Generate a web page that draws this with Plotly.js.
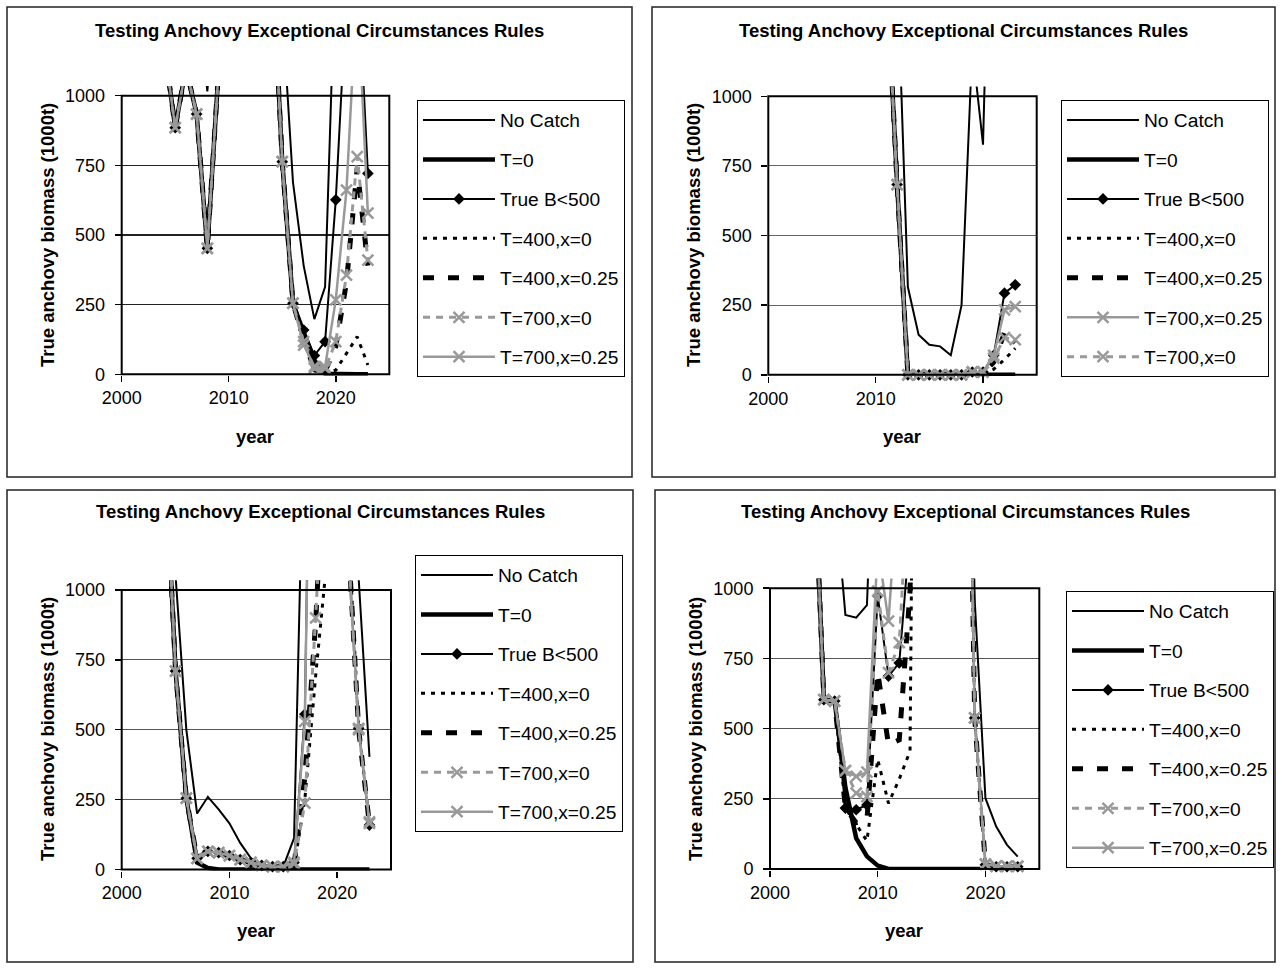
<!DOCTYPE html>
<html>
<head>
<meta charset="utf-8">
<script src="https://cdn.plot.ly/plotly-3.0.1.min.js"></script>
<style>html,body{margin:0;padding:0;background:#fff;}#chart{width:1282px;height:969px;}</style>
</head>
<body>
<div id="chart"></div>
<script>
// ---------------- DATA ----------------
const years = [2000,2001,2002,2003,2004,2005,2006,2007,2008,2009,2010,2011,2012,2013,2014,2015,2016,2017,2018,2019,2020,2021,2022,2023];
const seriesNames = ['No Catch','T=0','True B<500','T=400,x=0','T=400,x=0.25','T=700,x=0','T=700,x=0.25'];
const legendOrderP2 = ['No Catch','T=0','True B<500','T=400,x=0','T=400,x=0.25','T=700,x=0.25','T=700,x=0'];
const chartTitle = 'Testing Anchovy Exceptional Circumstances Rules';
const yTitle = 'True anchovy biomass (1000t)';
const xTitle = 'year';
const xTickVals = [2000,2010,2020];
const yTickVals = [0,250,500,750,1000];

// Panel 1 (top left)
const p1_noCatch   = [2400,2650,2500,2150,1750,1450,1600,1400,1015,1700,2300,2600,2450,2200,1900,1310,690,390,198,314,1520,1900,2100,2000];
const p1_t0        = [2000,2150,1950,1600,1170,885,1100,934,452,1060,1500,1900,2100,1800,1530,763,255,150,50,2,0,0,0,0];
const p1_trueB     = [2000,2150,1950,1600,1170,885,1100,934,452,1060,1500,1900,2100,1800,1530,763,255,159,67,117,626,1360,1500,721];
const p1_t400x0    = [2000,2150,1950,1600,1170,885,1100,934,452,1060,1500,1900,2100,1800,1530,763,255,130,12,3,15,75,135,33];
const p1_t400x025  = [2000,2150,1950,1600,1170,885,1100,934,452,1060,1500,1900,2100,1800,1530,763,255,125,18,10,100,330,740,390];
const p1_t700x0    = [2000,2150,1950,1600,1170,885,1100,934,452,1060,1500,1900,2100,1800,1530,763,255,117,21,20,117,356,781,410];
const p1_t700x025  = [2000,2150,1950,1600,1170,885,1100,934,452,1060,1500,1900,2100,1800,1530,763,255,105,28,27,267,661,1400,578];

// Panel 2 (top right)
const p2_noCatch   = [2600,2800,3000,2900,2700,2500,2800,3000,3200,2900,2400,2000,1470,315,144,108,102,70,250,1180,826,3500,3800,3600];
const p2_t0        = [2300,2500,2700,2600,2400,2200,2500,2700,2900,2600,2100,1450,683,0,0,0,0,0,0,0,0,0,0,0];
const p2_trueB     = [2300,2500,2700,2600,2400,2200,2500,2700,2900,2600,2100,1450,683,0,0,0,0,0,0,10,10,70,293,323];
const p2_t400x0    = [2300,2500,2700,2600,2400,2200,2500,2700,2900,2600,2100,1450,683,0,0,0,0,0,0,0,0,20,55,95];
const p2_t400x025  = [2300,2500,2700,2600,2400,2200,2500,2700,2900,2600,2100,1450,683,0,0,0,0,0,0,5,5,45,151,115];
const p2_t700x0    = [2300,2500,2700,2600,2400,2200,2500,2700,2900,2600,2100,1450,683,0,0,0,0,0,0,10,10,60,133,126];
const p2_t700x025  = [2300,2500,2700,2600,2400,2200,2500,2700,2900,2600,2100,1450,683,0,0,0,0,0,0,10,10,70,233,245];

// Panel 3 (bottom left)
const p3_noCatch   = [2200,2400,2600,2300,1800,1050,500,200,260,215,165,95,40,15,10,10,112,1760,2600,2900,2500,1700,1040,403];
const p3_t0        = [1900,2100,2300,2000,1510,710,255,25,5,0,0,0,0,0,0,0,0,0,0,0,0,0,0,0];
const p3_trueB     = [1900,2100,2300,2000,1510,710,255,40,65,60,50,35,25,15,10,10,25,555,3000,2900,2500,1170,505,159];
const p3_t400x0    = [1900,2100,2300,2000,1510,710,255,40,65,60,50,35,25,15,10,10,10,250,690,1090,2200,1250,510,165];
const p3_t400x025  = [1900,2100,2300,2000,1510,710,255,40,65,60,50,35,25,15,10,10,15,330,880,2300,2400,1200,500,160];
const p3_t700x0    = [1900,2100,2300,2000,1510,710,255,40,65,60,50,35,25,15,10,10,20,237,900,2300,2400,1170,500,170];
const p3_t700x025  = [1900,2100,2300,2000,1510,710,255,40,65,60,50,35,25,15,10,10,25,530,3000,3000,2500,1170,505,165];

// Panel 4 (bottom right)
const p4_noCatch   = [2400,2600,2800,2500,2000,1100,1350,905,895,940,3500,3800,4000,3900,3700,3600,3500,3300,3000,960,252,151,86,44];
const p4_t0        = [2100,2300,2500,2200,1540,603,598,290,110,45,12,0,0,0,0,0,0,0,0,0,0,0,0,0];
const p4_trueB     = [2100,2300,2500,2200,1540,603,598,217,211,228,973,687,734,1200,2500,3000,3200,3100,2900,538,15,8,8,8];
const p4_t400x0    = [2100,2300,2500,2200,1540,603,598,217,160,100,390,234,320,420,5000,5000,4500,4000,3000,538,12,6,6,6];
const p4_t400x025  = [2100,2300,2500,2200,1540,603,598,217,165,175,700,443,460,990,4000,4500,4200,3800,2900,538,14,7,7,7];
const p4_t700x0    = [2100,2300,2500,2200,1540,603,598,350,270,258,990,699,806,1500,2600,3000,3200,3100,2900,538,16,9,9,9];
const p4_t700x025  = [2100,2300,2500,2200,1540,603,598,350,330,345,1150,883,1300,2000,2700,3100,3300,3100,2900,538,18,10,10,10];

// ---------------- STYLE / LAYOUT ----------------
const FONT = 'Liberation Sans, Arial, sans-serif';
const GRAY = '#999999';
const xMarker = {symbol:'x-thin', size:11, color:GRAY, line:{color:GRAY, width:2.5}};
const styles = {
  'No Catch':     {mode:'lines', line:{color:'#000', width:2}},
  'T=0':          {mode:'lines', line:{color:'#000', width:4.5}},
  'True B<500':   {mode:'lines+markers', line:{color:'#000', width:2}, marker:{symbol:'diamond', size:9, color:'#000'}},
  'T=400,x=0':    {mode:'lines', line:{color:'#000', width:3, dash:'4px,6px'}},
  'T=400,x=0.25': {mode:'lines', line:{color:'#000', width:5, dash:'11px,14px'}},
  'T=700,x=0':    {mode:'lines+markers', line:{color:GRAY, width:3, dash:'7px,6px'}, marker:xMarker},
  'T=700,x=0.25': {mode:'lines+markers', line:{color:GRAY, width:2.5}, marker:xMarker}
};

const yRange = [-4, 1035];
const xRange = [2000, 2025];
const W = 1282, H = 969;

const panels = [
  {ax:'', data:{'No Catch':p1_noCatch,'T=0':p1_t0,'True B<500':p1_trueB,'T=400,x=0':p1_t400x0,'T=400,x=0.25':p1_t400x025,'T=700,x=0':p1_t700x0,'T=700,x=0.25':p1_t700x025},
   order:seriesNames, xdom:[121.7/W, 389.3/W], ydom:[1-375.4/H, 1-85.9/H], box:[7,7,632,477], title:[319.5,30], ytitle:[47,235], xtitle:[255,437], legend:[417,100], grid:'#222'},
  {ax:'2', data:{'No Catch':p2_noCatch,'T=0':p2_t0,'True B<500':p2_trueB,'T=400,x=0':p2_t400x0,'T=400,x=0.25':p2_t400x025,'T=700,x=0':p2_t700x0,'T=700,x=0.25':p2_t700x025},
   order:legendOrderP2, xdom:[768.3/W, 1036.7/W], ydom:[1-375.9/H, 1-86.5/H], box:[652,7,1275,477], title:[963.5,30], ytitle:[693,235], xtitle:[902,437], legend:[1061,100], grid:'#666'},
  {ax:'3', data:{'No Catch':p3_noCatch,'T=0':p3_t0,'True B<500':p3_trueB,'T=400,x=0':p3_t400x0,'T=400,x=0.25':p3_t400x025,'T=700,x=0':p3_t700x0,'T=700,x=0.25':p3_t700x025},
   order:seriesNames, xdom:[121.7/W, 391/W], ydom:[1-870.6/H, 1-580.2/H], box:[7,490,633,962], title:[320,512], ytitle:[47,729], xtitle:[256,930], legend:[415,555], grid:'#555'},
  {ax:'4', data:{'No Catch':p4_noCatch,'T=0':p4_t0,'True B<500':p4_trueB,'T=400,x=0':p4_t400x0,'T=400,x=0.25':p4_t400x025,'T=700,x=0':p4_t700x0,'T=700,x=0.25':p4_t700x025},
   order:seriesNames, xdom:[770/W, 1039.3/W], ydom:[1-870.1/H, 1-578.4/H], box:[655,490,1275,962], title:[965,512], ytitle:[695,729], xtitle:[904,930], legend:[1066,591], grid:'#555'}
];

const traces = [];
const layout = {
  width:W, height:H, margin:{l:0,r:0,t:0,b:0},
  paper_bgcolor:'#fff', plot_bgcolor:'rgba(0,0,0,0)',
  showlegend:true, font:{family:FONT, color:'#000', size:18},
  shapes:[], annotations:[]
};

function py(v, dom){ return dom[0] + (v - yRange[0])/(yRange[1]-yRange[0])*(dom[1]-dom[0]); }

panels.forEach((p, i) => {
  const xa = 'xaxis' + p.ax, ya = 'yaxis' + p.ax;
  const xid = 'x' + p.ax, yid = 'y' + p.ax;
  const legId = i === 0 ? 'legend' : 'legend' + (i+1);
  p.order.forEach((name, k) => {
    const st = styles[name];
    const t = {
      type:'scatter', x:years, y:p.data[name], name:name, xaxis:xid, yaxis:yid,
      legend:legId, legendgroup:'p'+i+'_'+k, mode:st.mode, line:st.line,
      cliponaxis:false, hoverinfo:'skip'
    };
    if (st.marker) t.marker = st.marker;
    traces.push(t);
  });
  layout[xa] = {domain:p.xdom, range:xRange, anchor:yid, tickvals:xTickVals, ticktext:xTickVals.map(String),
    ticks:'outside', ticklen:6, tickwidth:1.5, tickcolor:'#000', showgrid:false, zeroline:false, showline:false,
    tickfont:{family:FONT, size:18, color:'#000'}, fixedrange:true};
  layout[ya] = {domain:p.ydom, range:yRange, anchor:xid, tickvals:yTickVals, ticktext:yTickVals.map(String),
    ticks:'outside', ticklen:6, tickwidth:1.5, tickcolor:'#000', showgrid:true, gridcolor:p.grid, gridwidth:1.2,
    zeroline:false, showline:false, tickfont:{family:FONT, size:18, color:'#000'}, fixedrange:true, ticklabelstandoff:6};
  // plot-area frame (0..1000)
  layout.shapes.push({type:'rect', xref:'paper', yref:'paper', x0:p.xdom[0], x1:p.xdom[1], y0:py(0,p.ydom), y1:py(1000,p.ydom),
    line:{color:'#000', width:2}, layer:'above'});
  // panel border
  layout.shapes.push({type:'rect', xref:'paper', yref:'paper', x0:p.box[0]/W, x1:p.box[2]/W, y0:1-p.box[3]/H, y1:1-p.box[1]/H,
    line:{color:'#222', width:1.5}, layer:'below'});
  layout.annotations.push({text:'<b>'+chartTitle+'</b>', xref:'paper', yref:'paper', x:p.title[0]/W, y:1-p.title[1]/H,
    xanchor:'center', yanchor:'middle', showarrow:false, font:{family:FONT, size:18.5, color:'#000'}});
  layout.annotations.push({text:'<b>'+yTitle+'</b>', xref:'paper', yref:'paper', x:p.ytitle[0]/W, y:1-p.ytitle[1]/H,
    xanchor:'center', yanchor:'middle', textangle:-90, showarrow:false, font:{family:FONT, size:18.5, color:'#000'}});
  layout.annotations.push({text:'<b>'+xTitle+'</b>', xref:'paper', yref:'paper', x:p.xtitle[0]/W, y:1-p.xtitle[1]/H,
    xanchor:'center', yanchor:'middle', showarrow:false, font:{family:FONT, size:18.5, color:'#000'}});
  layout[legId] = {x:p.legend[0]/W, y:1-p.legend[1]/H, xanchor:'left', yanchor:'top', bgcolor:'#fff',
    bordercolor:'#000', borderwidth:1, font:{family:FONT, size:19.2, color:'#000'}, itemwidth:72,
    traceorder:'grouped', tracegroupgap:11.5, itemclick:false, itemdoubleclick:false};
});

Plotly.newPlot('chart', traces, layout, {staticPlot:true, displayModeBar:false});
</script>
</body>
</html>
